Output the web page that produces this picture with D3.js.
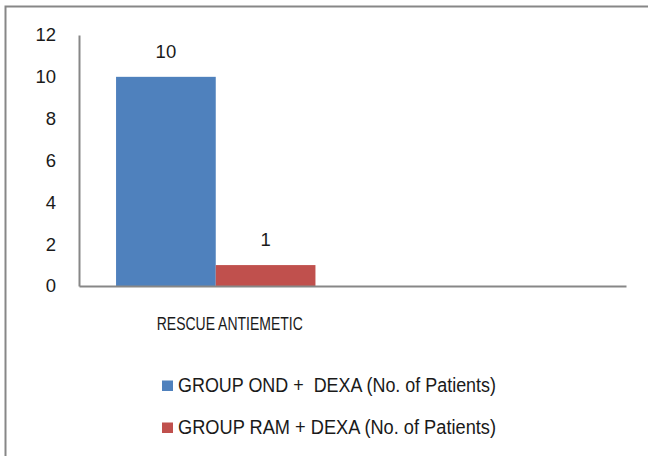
<!DOCTYPE html>
<html>
<head>
<meta charset="utf-8">
<script src="https://cdn.jsdelivr.net/npm/d3@7"></script>
<style>
  html, body { margin: 0; padding: 0; background: #fff; }
  svg { display: block; }
  text { font-family: "Liberation Sans Narrow", "Liberation Sans", Arial, sans-serif; fill: #1a1a1a; white-space: pre; }
</style>
</head>
<body>
<svg id="chart" width="648" height="456"></svg>
<script>
// Categories (second slot is an empty category on the axis)
const categories = ["RESCUE ANTIEMETIC", ""];
const seriesNames = ["GROUP OND +  DEXA (No. of Patients)", "GROUP RAM + DEXA (No. of Patients)"];
const ondDexa = [10, null];
const ramDexa = [1, null];
const yTicks = [0, 2, 4, 6, 8, 10, 12];
const colors = ["#4f81bd", "#c0504d"];

const svg = d3.select("#chart");
const W = 648, H = 456;

// chart frame (extends past the visible area on the right and bottom)
svg.append("rect")
  .attr("x", 5.5).attr("y", 6.5)
  .attr("width", W + 20).attr("height", H + 20)
  .attr("fill", "#fff").attr("stroke", "#878787").attr("stroke-width", 2);

const plot = { left: 79, right: 626, top: 35, bottom: 286 };

const x = d3.scaleBand().domain(categories).range([plot.left, plot.right]).paddingInner(0).paddingOuter(0);
const barW = 99.7;
const groupW = barW * seriesNames.length;
const y = d3.scaleLinear().domain([0, 12]).range([plot.bottom, plot.top]);

const series = [ondDexa, ramDexa];

// bars
series.forEach((vals, si) => {
  const data = categories.map((c, i) => ({ c, v: vals[i] })).filter(d => d.v != null);
  svg.append("g").selectAll("rect").data(data).enter().append("rect")
    .attr("x", d => x(d.c) + x.bandwidth() / 2 - groupW / 2 + si * barW)
    .attr("y", d => y(d.v))
    .attr("width", barW)
    .attr("height", d => y(0) - y(d.v))
    .attr("fill", colors[si]);
  // value labels
  svg.append("g").selectAll("text").data(data).enter().append("text")
    .attr("x", d => x(d.c) + x.bandwidth() / 2 - groupW / 2 + si * barW + barW / 2)
    .attr("y", d => y(d.v) - 19)
    .attr("text-anchor", "middle")
    .style("font-size", "18.5px")
    .text(d => d.v);
});

// y axis
const yAxis = d3.axisLeft(y).tickValues(yTicks).tickSize(0).tickPadding(23);
const gy = svg.append("g").attr("transform", `translate(${plot.left},0)`).call(yAxis);
gy.select(".domain").attr("stroke", "#878787").attr("stroke-width", 2);
gy.selectAll("text").style("font-size", "18.5px").attr("font-family", null);

// x axis
const xAxis = d3.axisBottom(x).tickSize(0).tickPadding(31);
const gx = svg.append("g").attr("transform", `translate(0,${plot.bottom})`).call(xAxis);
gx.select(".domain").attr("stroke", "#878787").attr("stroke-width", 2);
gx.selectAll("text")
  .style("font-size", "18px").attr("font-family", null)
  .attr("dx", 14)
  .filter(d => d !== "")
  .attr("textLength", 146).attr("lengthAdjust", "spacingAndGlyphs");

// legend
const legend = svg.append("g");
seriesNames.forEach((name, i) => {
  const ly = 385 + i * 42;
  legend.append("rect").attr("x", 162).attr("y", ly - 4.5).attr("width", 11).attr("height", 10.5).attr("fill", colors[i]);
  legend.append("text").attr("x", 178).attr("y", ly).attr("dy", "0.35em")
    .attr("xml:space", "preserve")
    .attr("textLength", 318).attr("lengthAdjust", "spacingAndGlyphs")
    .style("font-size", "19.5px").text(name);
});
</script>
</body>
</html>
